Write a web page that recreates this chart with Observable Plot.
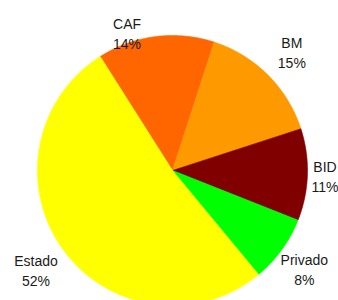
<!DOCTYPE html>
<html>
<head>
<meta charset="utf-8">
<script src="https://cdn.jsdelivr.net/npm/d3@7"></script>
<script src="https://cdn.jsdelivr.net/npm/@observablehq/plot@0.6"></script>
<style>
  html, body { margin: 0; padding: 0; background: #fff; }
  svg { display: block; }
</style>
</head>
<body>
<div id="chart"></div>
<script>
// Data
const categories = ["CAF", "BM", "BID", "Privado", "Estado"];
const values = [14, 15, 11, 8, 52];
const labels = ["14%", "15%", "11%", "8%", "52%"];
const colors = ["#FF6600", "#FF9900", "#800000", "#00FF00", "#FFFF00"];

// Layout config (not data)
const startDeg = -32.4;
const labelRadius = 1.25;
const labelNudge = {CAF: [-0.18, -0.22], BID: [-0.12, 0], Privado: [-0.035, 0.005]};

const pie = d3.pie().sort(null).value((d, i) => values[i])
  .startAngle(startDeg * Math.PI / 180)
  .endAngle(startDeg * Math.PI / 180 + 2 * Math.PI);
const arcs = pie(categories);

// Slice polygons in unit-circle coordinates
const slicePts = [];
arcs.forEach((a, i) => {
  const name = categories[i];
  slicePts.push({name, x: 0, y: 0});
  const steps = Math.max(2, Math.ceil((a.endAngle - a.startAngle) / (Math.PI / 360)));
  for (let k = 0; k <= steps; k++) {
    const t = a.startAngle + (a.endAngle - a.startAngle) * k / steps;
    slicePts.push({name, x: Math.sin(t), y: Math.cos(t)});
  }
  slicePts.push({name, x: 0, y: 0});
});

const labelData = arcs.map((a, i) => {
  const m = (a.startAngle + a.endAngle) / 2;
  const n = labelNudge[categories[i]] || [0, 0];
  return {
    text: categories[i] + "\n" + labels[i],
    x: labelRadius * Math.sin(m) + n[0],
    y: labelRadius * Math.cos(m) + n[1]
  };
});

const chart = Plot.plot({
  width: 338,
  height: 300,
  margin: 0,
  x: {domain: [-172 / 135, 166 / 135], axis: null},
  y: {domain: [-130 / 135, 170 / 135], axis: null},
  color: {domain: categories, range: colors},
  style: {fontFamily: "'Liberation Sans', Arial, sans-serif", background: "#fff"},
  marks: [
    Plot.line(slicePts, {x: "x", y: "y", z: "name", fill: "name", stroke: "name", strokeWidth: 0.6, curve: "linear"}),
    Plot.text(labelData, {x: "x", y: "y", text: "text", fontSize: 14, lineHeight: 1.43, fill: "#1a1a1a", textAnchor: "middle", lineAnchor: "middle"})
  ]
});
document.getElementById("chart").appendChild(chart);
</script>
</body>
</html>
